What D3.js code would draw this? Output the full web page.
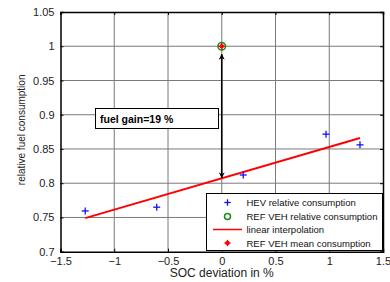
<!DOCTYPE html>
<html><head><meta charset="utf-8">
<script src="https://cdn.jsdelivr.net/npm/d3@7"></script>
<style>body{margin:0;background:#fff}svg{display:block;font-family:Arial,"Liberation Sans",sans-serif}</style>
</head><body><svg id="c" width="390" height="282"></svg>
<script>
const hevX = [-1.27, -0.605, 0.2, 0.97, 1.286];
const hevY = [0.7595, 0.765, 0.812, 0.8716, 0.856];
const refX = [0];
const refY = [1.0];
const fitX = [-1.27, 1.286];
const fitY = [0.749, 0.866];
const arrowX = [0, 0];
const arrowY = [0.808, 0.997];
const xTicks = [-1.5, -1, -0.5, 0, 0.5, 1, 1.5];
const yTicks = [0.7, 0.75, 0.8, 0.85, 0.9, 0.95, 1, 1.05];
const legendLabels = ["HEV relative consumption", "REF VEH relative consumption", "linear interpolation", "REF VEH mean consumption"];
const annotation = "fuel gain=19 %";

const svg = d3.select("#c");
const L = 60.5, R = 383, T = 12, B = 251.7;
const x = d3.scaleLinear().domain([-1.5, 1.5]).range([L, R]);
const y = d3.scaleLinear().domain([0.7, 1.05]).range([B, T]);

// grid
const g = svg.append("g");
g.selectAll("line.gx").data(xTicks.slice(1, -1)).join("line")
  .attr("x1", d => x(d)).attr("x2", d => x(d)).attr("y1", T).attr("y2", B)
  .attr("stroke", "#7a7a7a").attr("stroke-width", 1);
g.selectAll("line.gy").data(yTicks.slice(1, -1)).join("line")
  .attr("y1", d => y(d)).attr("y2", d => y(d)).attr("x1", L).attr("x2", R)
  .attr("stroke", "#7a7a7a").attr("stroke-width", 1);

// axes
const fmt = d => d3.format("")(+d.toFixed(2));
const xa = svg.append("g").attr("transform", `translate(0,${B})`)
  .call(d3.axisBottom(x).tickValues(xTicks).tickFormat(fmt).tickSize(-3).tickPadding(6));
const xt = svg.append("g").attr("transform", `translate(0,${T})`)
  .call(d3.axisTop(x).tickValues(xTicks).tickFormat("").tickSize(-3));
const ya = svg.append("g").attr("transform", `translate(${L},0)`)
  .call(d3.axisLeft(y).tickValues(yTicks).tickFormat(fmt).tickSize(-3).tickPadding(6));
const yr = svg.append("g").attr("transform", `translate(${R},0)`)
  .call(d3.axisRight(y).tickValues(yTicks).tickFormat("").tickSize(-3));
[xa, xt, ya, yr].forEach(a => {
  a.selectAll("path").attr("stroke", "#000").attr("stroke-width", 1.5);
  a.selectAll("line").attr("stroke", "#000");
  a.selectAll("text").attr("fill", "#222").style("font-size", "11px").style("font-family", "Arial, 'Liberation Sans', sans-serif");
});

// fit line
svg.append("line").attr("x1", x(fitX[0])).attr("y1", y(fitY[0])).attr("x2", x(fitX[1])).attr("y2", y(fitY[1]))
  .attr("stroke", "#f00").attr("stroke-width", 2);

// arrow
const defs = svg.append("defs");
defs.append("marker").attr("id", "ah").attr("viewBox", "0 0 10 10").attr("refX", 9).attr("refY", 5)
  .attr("markerWidth", 6).attr("markerHeight", 7).attr("orient", "auto-start-reverse").attr("markerUnits", "userSpaceOnUse")
  .append("path").attr("d", "M0,0 L10,5 L0,10 L3,5 Z").attr("fill", "#000");
svg.append("line").attr("x1", x(arrowX[0])).attr("y1", y(arrowY[0])).attr("x2", x(arrowX[1])).attr("y2", y(arrowY[1]) + 6)
  .attr("stroke", "#000").attr("stroke-width", 1.6)
  .attr("marker-start", "url(#ah)").attr("marker-end", "url(#ah)");

// HEV points (plus)
const plus = (sel, cx, cy, s, col, w) => {
  sel.append("line").attr("x1", cx - s).attr("x2", cx + s).attr("y1", cy).attr("y2", cy).attr("stroke", col).attr("stroke-width", w);
  sel.append("line").attr("x1", cx).attr("x2", cx).attr("y1", cy - s).attr("y2", cy + s).attr("stroke", col).attr("stroke-width", w);
};
const hg = svg.append("g");
hevX.forEach((d, i) => plus(hg, x(d), y(hevY[i]), 3.5, "#1010ff", 1.3));

// REF points
refX.forEach((d, i) => {
  svg.append("circle").attr("cx", x(d)).attr("cy", y(refY[i])).attr("r", 3.8).attr("fill", "none").attr("stroke", "#1a8a1a").attr("stroke-width", 1.5);
  svg.append("circle").attr("cx", x(d)).attr("cy", y(refY[i])).attr("r", 2.2).attr("fill", "#f00");
  plus(svg, x(d), y(refY[i]), 3.2, "#f00", 1.3);
});

// annotation box
svg.append("rect").attr("x", 95.5).attr("y", 108.5).attr("width", 123).attr("height", 20).attr("fill", "#fff").attr("stroke", "#000").attr("stroke-width", 1);
svg.append("text").attr("x", 100).attr("y", 122.5).text(annotation).attr("font-weight", "bold").style("font-size", "10.5px").attr("fill", "#000");

// legend
svg.append("rect").attr("x", 206.5).attr("y", 193.5).attr("width", 176).attr("height", 57).attr("fill", "#fff").attr("stroke", "#000").attr("stroke-width", 1);
const ly = [202.5, 216.5, 229.5, 243];
svg.selectAll("text.lg").data(legendLabels).join("text").attr("class", "lg")
  .attr("x", 246.5).attr("y", (d, i) => ly[i] + 3.5).text(d => d).style("font-size", "9.5px").attr("fill", "#111");
plus(svg, 227.5, ly[0], 3.2, "#1010ff", 1.3);
svg.append("circle").attr("cx", 227.5).attr("cy", ly[1]).attr("r", 3).attr("fill", "none").attr("stroke", "#1a8a1a").attr("stroke-width", 1.5);
svg.append("line").attr("x1", 213).attr("x2", 242).attr("y1", ly[2]).attr("y2", ly[2]).attr("stroke", "#f00").attr("stroke-width", 1.5);
svg.append("circle").attr("cx", 227.5).attr("cy", ly[3]).attr("r", 2.2).attr("fill", "#f00");
plus(svg, 227.5, ly[3], 3.2, "#f00", 1.3);

// axis titles
svg.append("text").attr("x", x(0)).attr("y", 277).attr("text-anchor", "middle").text("SOC deviation in %").style("font-size", "12px").attr("fill", "#222");
svg.append("text").attr("transform", `translate(25,${(T + B) / 2 - 2}) rotate(-90)`).attr("text-anchor", "middle")
  .text("relative fuel consumption").style("font-size", "10px").attr("fill", "#222");
</script></body></html>
